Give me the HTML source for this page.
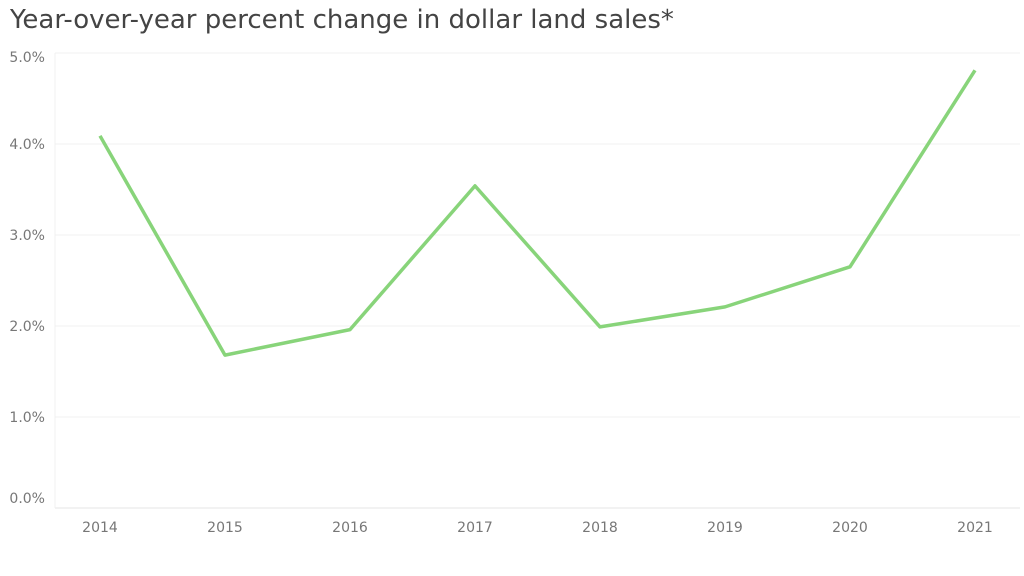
<!DOCTYPE html>
<html><head><meta charset="utf-8"><style>
html,body{margin:0;padding:0;background:#fff;}
svg{display:block;font-family:"DejaVu Sans","Liberation Sans",sans-serif;}
</style></head><body>
<svg id="chart" width="1024" height="576" viewBox="0 0 1024 576">
<text x="10" y="28" font-size="26" fill="#444">Year-over-year percent change in dollar land sales*</text>
<g id="grid"></g>
<g id="yaxis"></g>
<g id="xaxis"></g>
<path id="line" fill="none" stroke="#88d47a" stroke-width="3.5" stroke-linejoin="round"/>
</svg>
<script>
const categories = ["2014","2015","2016","2017","2018","2019","2020","2021"];
const values = [4.09, 1.68, 1.96, 3.54, 1.99, 2.21, 2.65, 4.81];
const yTicks = [0,1,2,3,4,5];
const yTickLabels = ["0.0%","1.0%","2.0%","3.0%","4.0%","5.0%"];
const ns="http://www.w3.org/2000/svg";
const x0=100, xStep=125, yBase=508, yPer=91, left=55, right=1020;
const X=i=>x0+i*xStep, Y=v=>yBase-v*yPer;
const grid=document.getElementById('grid'), ya=document.getElementById('yaxis'), xa=document.getElementById('xaxis');
yTicks.forEach((t,i)=>{
  const l=document.createElementNS(ns,'line');
  
  
  l.setAttribute('x1',left);l.setAttribute('x2',right);l.setAttribute('y1',Y(t));l.setAttribute('y2',Y(t));
  l.setAttribute('stroke', t===0?'#e6e6e6':'#f0f0f0');l.setAttribute('stroke-width','1');
  grid.appendChild(l);
  let off=5;
  if(i===0) off=-5;
  if(i===yTicks.length-1) off=9;
  const tx=document.createElementNS(ns,'text');
  
  
  tx.setAttribute('x',45);tx.setAttribute('y',Y(t)+off);tx.setAttribute('text-anchor','end');
  tx.setAttribute('font-size','14');tx.setAttribute('fill','#777');
  tx.textContent=yTickLabels[i];ya.appendChild(tx);
});
const vl=document.createElementNS(ns,'line');


vl.setAttribute('x1',left);vl.setAttribute('x2',left);vl.setAttribute('y1',Y(5));vl.setAttribute('y2',yBase);
vl.setAttribute('stroke','#f0f0f0');grid.appendChild(vl);
categories.forEach((c,i)=>{
  const tx=document.createElementNS(ns,'text');
  
  
  tx.setAttribute('x',X(i));tx.setAttribute('y',532);tx.setAttribute('text-anchor','middle');
  tx.setAttribute('font-size','14');tx.setAttribute('fill','#777');
  tx.textContent=c;xa.appendChild(tx);
});
document.getElementById('line').setAttribute('d',values.map((v,i)=>(i?'L':'M')+X(i)+','+Y(v)).join(' '));
</script>
</body></html>
